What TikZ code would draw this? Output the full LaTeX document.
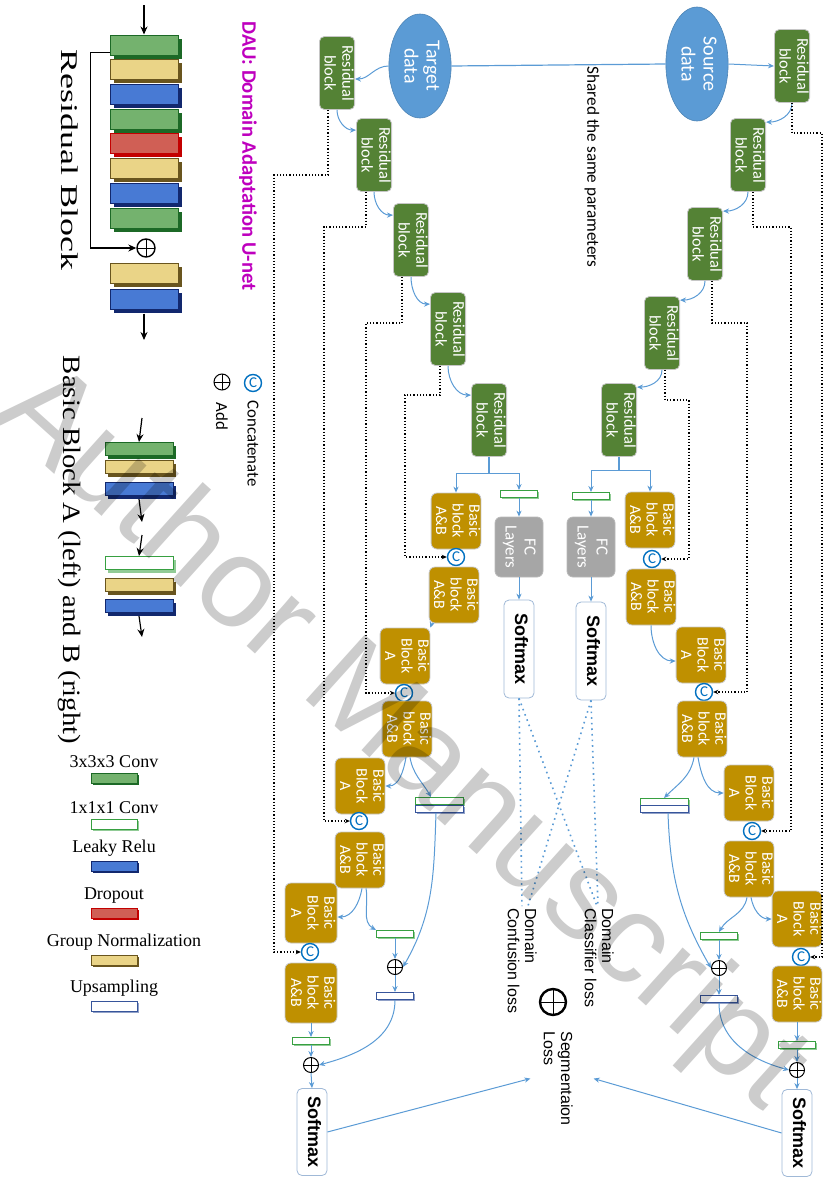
\documentclass[tikz,border=0pt]{standalone}
\usepackage{fontspec}
\setmainfont{Liberation Serif}
\newfontfamily\calfont{Carlito}
\newfontfamily\arfont{Liberation Sans}
\usepackage{graphicx}
\usepackage{xcolor}
\usepackage{tikz}
\usetikzlibrary{arrows.meta,shapes.geometric,shadows,positioning,calc}
\definecolor{resgreen}{RGB}{84,130,53}
\definecolor{bbgold}{RGB}{191,144,0}
\definecolor{fcgray}{RGB}{166,166,166}
\definecolor{datablue}{RGB}{91,155,213}
\definecolor{catblue}{RGB}{0,112,192}
\definecolor{dauviolet}{RGB}{190,0,190}
\definecolor{smline}{RGB}{160,185,215}
\definecolor{cvfill}{RGB}{116,178,110}
\definecolor{cvline}{RGB}{28,105,38}
\definecolor{onegreen}{RGB}{55,160,65}
\definecolor{lrfill}{RGB}{72,122,212}
\definecolor{lrline}{RGB}{18,40,110}
\definecolor{dpfill}{RGB}{208,95,85}
\definecolor{dpline}{RGB}{195,0,0}
\definecolor{gnfill}{RGB}{234,212,135}
\definecolor{gnline}{RGB}{105,85,30}
\definecolor{upline}{RGB}{55,85,155}

\newcommand{\vtext}[1]{\rotatebox{-90}{\begin{tabular}{@{}c@{}}#1\end{tabular}}}
\newcommand{\vtextl}[1]{\rotatebox{-90}{\begin{tabular}{@{}l@{}}#1\end{tabular}}}

\begin{document}
\begin{tikzpicture}[x=0.5pt, y=-0.5pt,
  every node/.style={inner sep=0pt},
  resbox/.style={rectangle, rounded corners=2.5pt, fill=resgreen, draw=gray!45,
                 line width=0.4pt, minimum width=16.5pt, minimum height=36.5pt,
                 text=white, font=\calfont\fontsize{8.2}{8.8}\selectfont},
  basbox/.style={rectangle, rounded corners=3pt, fill=bbgold, draw=gray!45,
                 line width=0.4pt, minimum width=24pt, minimum height=28pt,
                 text=white, font=\calfont\fontsize{8}{8.3}\selectfont},
  fcbox/.style={rectangle, rounded corners=3pt, fill=fcgray, draw=gray!55,
                line width=0.4pt, minimum width=24pt, minimum height=30pt,
                text=white, font=\calfont\fontsize{8.5}{9.5}\selectfont},
  smbox/.style={rectangle, rounded corners=2.5pt, fill=white, draw=smline,
                line width=0.4pt, minimum width=15pt, minimum height=49pt,
                font=\arfont\bfseries\fontsize{9}{10}\selectfont},
  databox/.style={ellipse, fill=datablue, draw=datablue!85!black, line width=0.3pt,
                  minimum width=30pt, text=white,
                  font=\calfont\fontsize{10}{11}\selectfont},
  catnode/.style={circle, draw=catblue, line width=0.7pt, minimum size=8.5pt,
                  fill=white, text=catblue, font=\calfont\fontsize{7.5}{7.5}\selectfont},
  addnode/.style={circle, draw, line width=0.5pt, minimum size=7.5pt, fill=white,
                  path picture={\draw[line width=0.5pt]
                    (path picture bounding box.north) -- (path picture bounding box.south)
                    (path picture bounding box.west) -- (path picture bounding box.east);}},
  blk/.style={rectangle, line width=0.5pt},
  convbar/.style={blk, fill=cvfill, draw=cvline,
                  general shadow={fill=cvline, shadow xshift=#1, shadow yshift=-#1}},
  convbar/.default=1pt,
  onebar/.style={blk, fill=white, draw=onegreen,
                 general shadow={fill=onegreen!55, shadow xshift=#1, shadow yshift=-#1}},
  onebar/.default=0.8pt,
  lrbar/.style={blk, fill=lrfill, draw=lrline,
                general shadow={fill=lrline, shadow xshift=#1, shadow yshift=-#1}},
  lrbar/.default=1pt,
  dpbar/.style={blk, fill=dpfill, draw=dpline,
                general shadow={fill=dpline, shadow xshift=#1, shadow yshift=-#1}},
  dpbar/.default=1pt,
  gnbar/.style={blk, fill=gnfill, draw=gnline,
                general shadow={fill=gnline, shadow xshift=#1, shadow yshift=-#1}},
  gnbar/.default=1pt,
  upbar/.style={blk, fill=white, draw=upline,
                general shadow={fill=upline!55, shadow xshift=#1, shadow yshift=-#1}},
  upbar/.default=0.8pt,
  stackbar/.style={minimum width=34pt, minimum height=10pt},
  thinbar/.style={minimum width=34pt, minimum height=6.5pt},
  legbar/.style={minimum width=23pt, minimum height=5pt},
  netbar/.style={minimum width=18.5pt, minimum height=3.5pt},
  arrow/.style={-{Stealth[length=3pt,width=2.6pt]}, draw=datablue, line width=0.5pt},
  bline/.style={draw=datablue, line width=0.6pt},
  skip/.style={densely dotted, line width=0.6pt, -{Stealth[length=2.5pt,width=2.2pt]}},
  larrow/.style={-{Stealth[length=4pt,width=3.5pt]}, line width=0.6pt},
  lossline/.style={draw=datablue, dotted, line width=0.8pt},
  legserif/.style={font=\fontsize{9}{10}\selectfont},
  legtxt/.style={font=\calfont\fontsize{8.4}{9}\selectfont},
  losstxt/.style={inner sep=1pt, font=\arfont\fontsize{8}{8.6}\selectfont},
]
\useasboundingbox (0,0) rectangle (825,1178);

%% Residual block legend
\coordinate (rbin) at (144,5);
\node[convbar=2pt, stackbar] (rb1) at (144,45) {};
\node[gnbar=2pt, stackbar]   (rb2) at (144,69) {};
\node[lrbar=2pt, stackbar]   (rb3) at (144,94) {};
\node[convbar=2pt, stackbar] (rb4) at (144,119) {};
\node[dpbar=2pt, stackbar]   (rb5) at (144,143) {};
\node[gnbar=2pt, stackbar]   (rb6) at (144,168) {};
\node[lrbar=2pt, stackbar]   (rb7) at (144,193) {};
\node[convbar=2pt, stackbar] (rb8) at (144,218) {};
\node[addnode, minimum size=9pt, line width=0.7pt] (radd) at (146,248) {};
\node[gnbar=2pt, stackbar]   (rb9) at (144,273) {};
\node[lrbar=2pt, stackbar]   (rb10) at (144,299) {};
\coordinate (rbout) at (144,340);
\draw[larrow] (rbin) -- (rb1.north);
\draw[larrow] ([yshift=-3.7pt]rb1.west) -- ++(-19,0) |- (radd.west);
\draw[larrow] ([yshift=-2pt]rb10.south) -- (rbout);
\node[font=\fontsize{12}{14}\selectfont] (rbtitle) at (70,160)
  {\rotatebox{-90}{\scalebox{1.5}[1]{Residual Block}}};

%% Basic block A and B legend
\coordinate (bain) at (142,418);
\node[convbar=1.5pt, thinbar] (ba1) at (139,449) {};
\node[gnbar=1.5pt, thinbar]   (ba2) at (139,467) {};
\node[lrbar=1.5pt, thinbar]   (ba3) at (139,489) {};
\coordinate (baout) at (142,522);
\coordinate (bbin) at (142,535);
\node[onebar=1.5pt, thinbar]  (bb1) at (139,563) {};
\node[gnbar=1.5pt, thinbar]   (bb2) at (139,585) {};
\node[lrbar=1.5pt, thinbar]   (bb3) at (139,606) {};
\coordinate (bbout) at (142,637);
\draw[larrow] (bain) -- (ba1.north);
\draw[larrow] ([yshift=-1.5pt]ba3.south) -- (baout);
\draw[larrow] (bbin) -- (bb1.north);
\draw[larrow] ([yshift=-1.5pt]bb3.south) -- (bbout);
\node[font=\fontsize{12.5}{14}\selectfont] (bbtitle) at (70,550)
  {\rotatebox{-90}{\scalebox{1.15}[1]{Basic Block A (left) and B (right)}}};

%% Layer legend
\node[convbar=1.2pt, legbar] (lg1) at (114,778) {};
\node[onebar=1.2pt, legbar]  (lg2) at (114,824) {};
\node[lrbar=1.2pt, legbar]   (lg3) at (114,866) {};
\node[dpbar=1.2pt, legbar]   (lg4) at (114,913) {};
\node[gnbar=1.2pt, legbar]   (lg5) at (114,960) {};
\node[upbar=1.2pt, legbar]   (lg6) at (114,1006) {};
\node[legserif, above=2pt of lg1] {3x3x3 Conv};
\node[legserif, above=2pt of lg2] {1x1x1 Conv};
\node[legserif, above=2pt of lg3] {Leaky Relu};
\node[legserif, above=2pt of lg4] {Dropout};
\node[legserif, above=2pt of lg5, xshift=5pt] {Group Normalization};
\node[legserif, above=2pt of lg6] {Upsampling};

%% Title and symbol legend
\node[text=dauviolet, font=\calfont\bfseries\fontsize{10.3}{12}\selectfont] (dau)
  at (248,156) {\rotatebox{-90}{DAU: Domain Adaptation U-net}};
\node[catnode] (lcat) at (253,383) {C};
\node[legtxt, below=4pt of lcat] (lcattxt) {\rotatebox{-90}{Concatenate}};
\node[addnode, minimum size=8pt] (ladd) at (222,382) {};
\node[legtxt, below=6pt of ladd] (laddtxt) {\rotatebox{-90}{Add}};

%% Input data
\node[databox, minimum height=52pt] (tgt) at (420,66) {\vtext{Target\\data}};
\node[databox, minimum height=57pt] (src) at (697,64) {\vtext{Source\\data}};
\draw[bline] (tgt.east) -- (src.west);
\node[font=\calfont\fontsize{8.6}{9}\selectfont] (shared) at (592,167)
  {\rotatebox{-90}{Shared the same parameters}};

%% Target encoder
\node[resbox] (rt1) at (337,73)  {\vtext{Residual\\block}};
\node[resbox] (rt2) at (374,155) {\vtext{Residual\\block}};
\node[resbox] (rt3) at (411,240) {\vtext{Residual\\block}};
\node[resbox] (rt4) at (448,329) {\vtext{Residual\\block}};
\node[resbox] (rt5) at (489,420) {\vtext{Residual\\block}};

%% Source encoder
\node[resbox] (rs1) at (792,66)  {\vtext{Residual\\block}};
\node[resbox] (rs2) at (748,155) {\vtext{Residual\\block}};
\node[resbox] (rs3) at (705,244) {\vtext{Residual\\block}};
\node[resbox] (rs4) at (662,333) {\vtext{Residual\\block}};
\node[resbox] (rs5) at (619,420) {\vtext{Residual\\block}};

\draw[arrow] (tgt.west) to[out=180,in=0] ([yshift=-3pt]rt1.east);
\draw[arrow] (src.east) -- (rs1.west);
\draw[arrow] (rt1.south) to[out=-90,in=180] ([yshift=-6pt]rt2.north west);
\draw[arrow] (rt2.south) to[out=-90,in=180] ([yshift=-6pt]rt3.north west);
\draw[arrow] (rt3.south) to[out=-90,in=180] ([yshift=-6pt]rt4.north west);
\draw[arrow] (rt4.south) to[out=-90,in=180] ([yshift=-6pt]rt5.north west);
\draw[arrow] (rs1.south) to[out=-90,in=0] ([yshift=-2pt]rs2.north east);
\draw[arrow] (rs2.south) to[out=-90,in=0] ([yshift=-2pt]rs3.north east);
\draw[arrow] (rs3.south) to[out=-90,in=0] ([yshift=-2pt]rs4.north east);
\draw[arrow] (rs4.south) to[out=-90,in=0] ([yshift=-2pt]rs5.north east);

%% Domain heads
\node[onebar, netbar] (ft) at (519,494) {};
\node[onebar, netbar] (fs) at (591,496) {};
\node[fcbox] (fct) at (519,547) {\vtext{FC\\Layers}};
\node[fcbox] (fcs) at (591,547) {\vtext{FC\\Layers}};
\node[smbox] (smt) at (519,649) {\vtext{Softmax}};
\node[smbox] (sms) at (591,651) {\vtext{Softmax}};
\draw[arrow] (ft.south) -- (fct.north);
\draw[arrow] (fct.south) -- (smt.north);
\draw[arrow] (fs.south) -- (fcs.north);
\draw[arrow] (fcs.south) -- (sms.north);

%% Target decoder
\node[basbox] (bt1) at (456,521) {\vtext{Basic\\block\\A\&B}};
\node[catnode] (ct1) at (456,557) {C};
\node[basbox] (bt2) at (454,595) {\vtext{Basic\\block\\A\&B}};
\node[basbox] (bt3) at (405,656) {\vtext{Basic\\Block\\A}};
\node[catnode] (ct2) at (404,693) {C};
\node[basbox] (bt4) at (407,729) {\vtext{Basic\\block\\A\&B}};
\node[basbox] (bt5) at (360,786) {\vtext{Basic\\Block\\A}};
\node[catnode] (ct3) at (359,821) {C};
\node[basbox] (bt6) at (360,860) {\vtext{Basic\\block\\A\&B}};
\node[basbox, minimum width=26pt, minimum height=30pt] (bt7) at (311,913) {\vtext{Basic\\Block\\A}};
\node[catnode] (ct4) at (310,952) {C};
\node[basbox, minimum width=26pt, minimum height=30pt] (bt8) at (311,993) {\vtext{Basic\\block\\A\&B}};
\node[onebar, minimum width=24pt, minimum height=3.5pt] (pgt) at (439,801) {};
\node[upbar, minimum width=24pt, minimum height=3.5pt]  (put) at (439,809) {};
\node[onebar, netbar] (gt2) at (395,934) {};
\node[addnode] (at1) at (395,967) {};
\node[upbar, netbar] (ut2) at (395,996) {};
\node[onebar, netbar] (gt3) at (311,1041) {};
\node[addnode] (at2) at (311,1065) {};
\node[smbox, minimum height=43.5pt] (smtb) at (312,1132) {\vtext{Softmax}};

%% Source decoder
\node[basbox] (bs1) at (650,520) {\vtext{Basic\\block\\A\&B}};
\node[catnode] (cs1) at (652,559) {C};
\node[basbox] (bs2) at (651,597) {\vtext{Basic\\block\\A\&B}};
\node[basbox] (bs3) at (701,655) {\vtext{Basic\\Block\\A}};
\node[catnode] (cs2) at (704,692) {C};
\node[basbox] (bs4) at (702,729) {\vtext{Basic\\block\\A\&B}};
\node[basbox] (bs5) at (749,793) {\vtext{Basic\\Block\\A}};
\node[catnode] (cs3) at (752,831) {C};
\node[basbox] (bs6) at (749,869) {\vtext{Basic\\block\\A\&B}};
\node[basbox] (bs7) at (797,919) {\vtext{Basic\\Block\\A}};
\node[catnode] (cs4) at (801,957) {C};
\node[basbox] (bs8) at (797,994) {\vtext{Basic\\block\\A\&B}};
\node[onebar, minimum width=24pt, minimum height=3.5pt] (pgs) at (664,802) {};
\node[upbar, minimum width=24pt, minimum height=3.5pt]  (pus) at (664,809) {};
\node[onebar, netbar] (gs2) at (719,936) {};
\node[addnode] (as1) at (719,968) {};
\node[upbar, netbar] (us2) at (719,999) {};
\node[onebar, netbar] (gs3) at (797,1045) {};
\node[addnode] (as2) at (797,1070) {};
\node[smbox, minimum height=43.5pt] (smsb) at (797,1133) {\vtext{Softmax}};

%% Bottleneck split
\coordinate (jt) at ($(rt5.south)+(0,17)$);
\coordinate (js) at ($(rs5.south)+(0,14)$);
\draw[bline] (rt5.south) -- (jt);
\draw[arrow] (jt) -| (bt1.north);
\draw[arrow] (jt) -| (ft.north);
\draw[bline] (rs5.south) -- (js);
\draw[arrow] (js) -| (bs1.north);
\draw[arrow] (js) -| (fs.north);

%% Skip connections
\draw[skip] ([xshift=-4pt]rt4.south) -- ++(0,29) -- ++(-35,0) |- (ct1.west);
\draw[skip] ([xshift=-4.5pt]rt3.south) -- ++(0,46) -- ++(-36,0) |- (ct2.west);
\draw[skip] ([xshift=-4pt]rt2.south) -- ++(0,35) -- ++(-42,0) |- (ct3.west);
\draw[skip] ([xshift=-4.5pt]rt1.south) -- ++(0,65) -- ++(-54,0) |- (ct4.west);
\draw[skip] ([xshift=1.5pt]rs4.south) -- ++(0,30) -- ++(24,0) |- (cs1.east);
\draw[skip] ([xshift=3.5pt]rs3.south) -- ++(0,42) -- ++(35,0) |- (cs2.east);
\draw[skip] ([xshift=2.5pt]rs2.south) -- ++(0,35) -- ++(38,0) |- (cs3.east);
\draw[skip] (rs1.south) -- ++(0,30) -- ++(30,0) |- (cs4.east);

%% Target decoder arrows
\draw[arrow] ([xshift=2pt]bt2.south west) to[out=-100,in=70] (bt3.north east);
\draw[arrow] ([xshift=-0.5pt]bt4.south) to[out=-100,in=0] (bt5.east);
\draw[arrow] ([xshift=1.5pt]bt4.south) to[out=-80,in=120] ([xshift=-4pt]pgt.north);
\draw[arrow] ([xshift=-1.5pt]put.south) to[out=-92,in=60] (at1.east);
\draw[arrow] ([xshift=1pt]bt6.south) to[out=-100,in=0] ([yshift=-2pt]bt7.east);
\draw[arrow] ([xshift=3pt]bt6.south) to[out=-80,in=150] (gt2.north west);
\draw[arrow] (gt2.south) -- (at1.north);
\draw[arrow] (at1.south) -- (ut2.north);
\draw[arrow] (ut2.south) to[out=-90,in=15] (at2.east);
\draw[arrow] (bt8.south) -- (gt3.north);
\draw[arrow] (gt3.south) -- (at2.north);
\draw[arrow] (at2.south) -- (smtb.north);

%% Source decoder arrows
\draw[arrow] (bs2.south) to[out=-90,in=180] ([yshift=-3pt]bs3.west);
\draw[arrow] ([xshift=-4pt]bs4.south) to[out=-100,in=45] (pgs.north);
\draw[arrow] ([xshift=-2pt]bs4.south) to[out=-80,in=180] (bs5.west);
\draw[arrow] ([xshift=2pt]pus.south) to[out=-88,in=120] (as1.west);
\draw[arrow] ([xshift=-1pt]bs6.south) to[out=-100,in=60] (gs2.north);
\draw[arrow] ([xshift=1pt]bs6.south) to[out=-80,in=180] (bs7.west);
\draw[arrow] (gs2.south) -- (as1.north);
\draw[arrow] (as1.south) -- (us2.north);
\draw[arrow] (us2.south) to[out=-90,in=165] (as2.west);
\draw[arrow] (bs8.south) -- (gs3.north);
\draw[arrow] (gs3.south) -- (as2.north);
\draw[arrow] (as2.south) -- (smsb.north);

%% Losses
\node[losstxt, anchor=north] (dcls) at (597,906) {\vtextl{Domain\\Classifier loss}};
\node[losstxt, anchor=north] (dcon) at (520,906) {\vtextl{Domain\\Confusion loss}};
\node[addnode, minimum size=13pt, line width=1.2pt] (segadd) at (553,1002) {};
\node[losstxt, anchor=north] (segl) at (556,1029) {\vtextl{Segmentaion\\Loss}};
\draw[lossline] (smt.south) -- ([xshift=1pt]dcon.north);
\draw[lossline] (smt.south) -- (dcls.north);
\draw[lossline] (sms.south) -- ([xshift=0.5pt]dcls.north);
\draw[lossline] (sms.south) -- ([xshift=4pt]dcon.north);
\draw[arrow] (smtb.east) -- ([xshift=-3pt]segl.west);
\draw[arrow] (smsb.west) -- ([xshift=9pt]segl.east);

%% Watermark
\node[rotate=-42, text=black, text opacity=0.2,
      font=\arfont\fontsize{64}{64}\selectfont] (wmark) at (400,740) {Author Manuscript};
\end{tikzpicture}
\end{document}
